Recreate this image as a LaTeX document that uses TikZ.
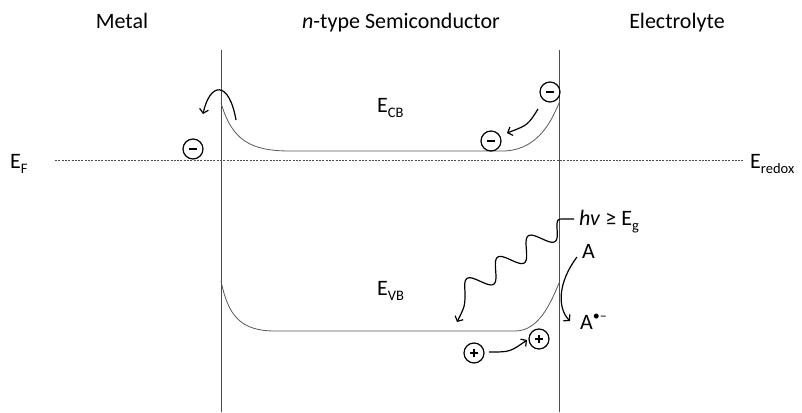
\documentclass[tikz,border=0pt]{standalone}
\usepackage{fontspec}
\setmainfont{Carlito}
\usetikzlibrary{arrows.meta}
\newcommand\lowtxt[1]{\raisebox{-5pt}{\fontsize{14.5}{15}\selectfont #1}}
\newcommand\hightxt[1]{\raisebox{9pt}{\fontsize{14}{15}\selectfont #1}}
\begin{document}
\begin{tikzpicture}[x=1pt,y=-1pt,
  font=\fontsize{22}{26}\selectfont,
  lbl/.style={inner sep=0, anchor=base west},
  ttl/.style={inner sep=0, anchor=base},
  charge/.style={circle, draw, line width=1.2pt, minimum size=20pt, inner sep=0},
  band/.style={black!65, line width=0.8pt},
  wall/.style={black!70, line width=1pt},
  fermi/.style={black!70, line width=0.8pt, dash pattern=on 2pt off 1.3pt},
  arr/.style={line width=1.2pt, -{Straight Barb[length=4pt,width=9pt]}},
  sign/.style={line width=2pt}]
\useasboundingbox (0,0) rectangle (802,412);

% headings
\node[ttl] (metal) at (122,29) {Metal};
\node[ttl] (semi) at (401,29) {\textit{n}-type Semiconductor};
\node[ttl] (elec) at (677,29) {Electrolyte};

% interfaces
\draw[wall] (221,50) -- (221,412);
\draw[wall] (559,50) -- (559,412);

% Fermi / redox level
\node[lbl] (EF) at (10,168) {E\lowtxt{F}};
\node[lbl] (Ered) at (750,168) {E\lowtxt{redox}};
\coordinate (fl) at (55,160);
\coordinate (fr) at (744,160);
\draw[fermi] (fl) -- (fr);

% bands
\draw[band] (221,103) .. controls (232,140) and (250,151) .. (290,151) -- (500,151)
  .. controls (535,152) and (550,125) .. (559,103);
\draw[band] (221,281) .. controls (228,315) and (240,331) .. (275,331) -- (515,331)
  .. controls (538,331) and (550,305) .. (559,283);
\node[lbl] (ECB) at (377,112) {E\lowtxt{CB}};
\node[lbl] (EVB) at (377,295) {E\lowtxt{VB}};

% charges
\node[charge] (m1) at (193,149) {};
\node[charge] (m2) at (550,92) {};
\node[charge] (m3) at (491,141) {};
\node[charge] (p1) at (474,353) {};
\node[charge] (p2) at (539,339) {};
\foreach \c in {m1,m2,m3,p1,p2}
  \draw[sign] ([xshift=-4.2pt]\c.center) -- ([xshift=4.2pt]\c.center);
\foreach \c in {p1,p2}
  \draw[sign] ([yshift=-4.2pt]\c.center) -- ([yshift=4.2pt]\c.center);

% labels on the right
\node[lbl] (hv) at (579,225) {\textit{hv} ≥ E\lowtxt{g}};
\node[lbl] (A) at (582,258) {A};
\node[lbl] (Aox) at (580,329) {A\hightxt{•–}};

% arrows
\coordinate (a1s) at (236,120);
\coordinate (a1e) at (203,114);
\draw[arr] (a1s) .. controls (229,80) and (210,82) .. (a1e);

\coordinate (a2s) at (538,109);
\coordinate (a2e) at (507,133);
\draw[arr] (a2s) .. controls (528,125) .. (a2e);

\coordinate (a3s) at (489,352);
\coordinate (a3e) at (527,340);
\draw[arr] (a3s) .. controls (510,352) .. (a3e);

\coordinate (a4s) at (577,257);
\coordinate (a4e) at (570,321);
\draw[arr] (a4s) .. controls (558,282) and (557,308) .. (a4e);

% photon (wavy arrow)
\coordinate (w0) at (574,219);
\coordinate (wtip) at (457,322);
\draw[arr] (w0) -- (564,219) .. controls (557,219) .. (557,228)
  -- plot[domain=0:1, samples=90, smooth]
     ({557-92*\x+10*0.571*sin(1080*\x)},{228+64*\x+10*0.821*sin(1080*\x)})
  .. controls (465,306) .. (wtip);
\end{tikzpicture}
\end{document}
